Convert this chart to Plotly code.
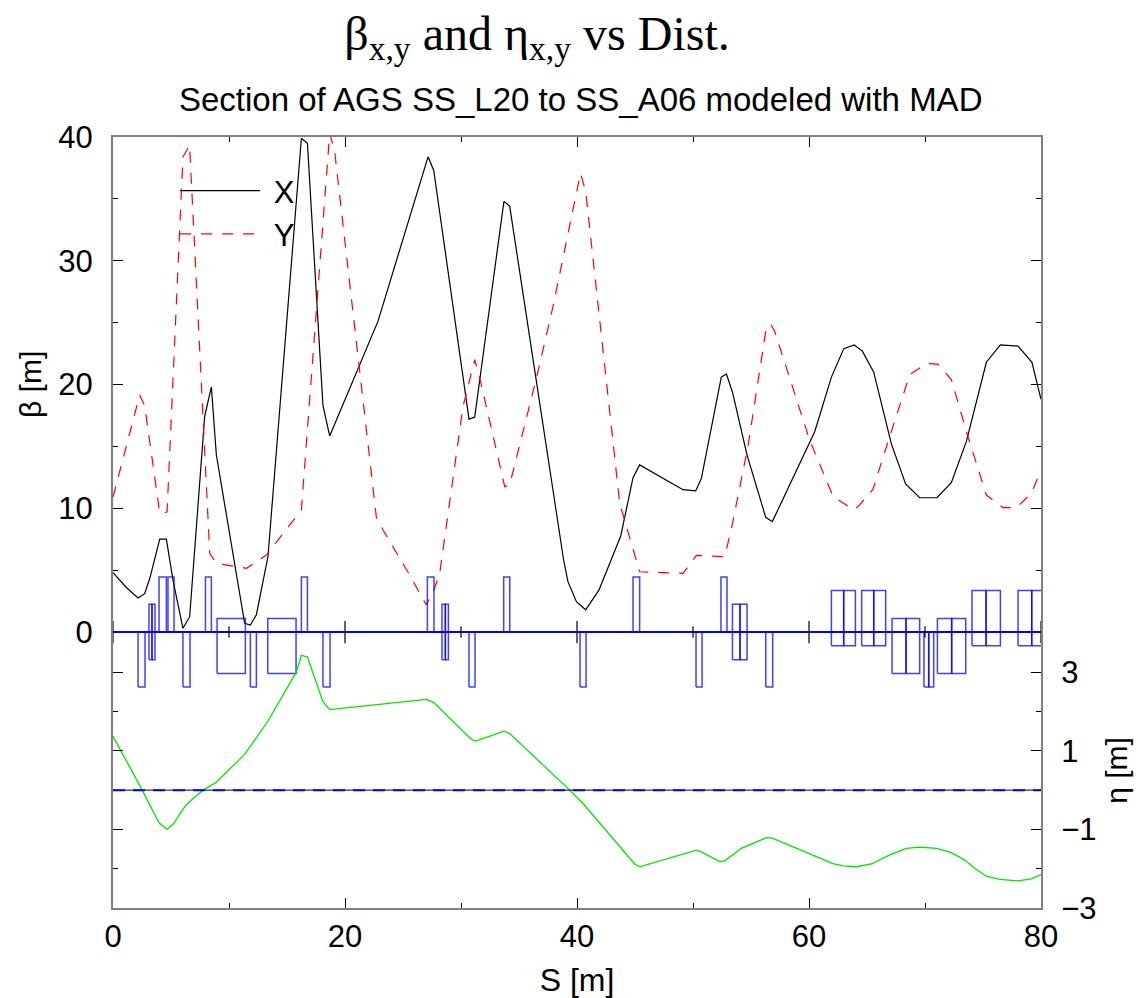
import plotly.graph_objects as go

# ---------------- data ----------------
s_bx = [0, 1.15, 2.16, 2.73, 3.16, 4.03, 4.6, 5.17, 6.03, 6.61, 7.9, 8.48, 8.91, 11.35, 11.84,
        12.36, 13.36, 16.24, 16.76, 18.1, 18.68, 22.84, 27.16, 27.65, 30.69, 31.18, 33.7, 34.2,
        38.85, 39.22, 39.95, 40.75, 41.9, 43.77, 44.83, 45.4, 49.14, 50.23, 50.72, 52.44, 52.88,
        53.4, 54.66, 56.27, 56.84, 60.5, 61.93, 63.0, 63.9, 64.6, 65.58, 67.1, 68.33, 69.54,
        71.03, 72.27, 73.57, 75.29, 76.5, 78.02, 79.22, 80]
beta_x = [4.8, 3.6, 2.75, 3.1, 4.3, 7.5, 7.5, 4.2, 0.3, 1.24, 17.4, 19.8, 14.3, 0.7, 0.57,
          1.4, 6.1, 39.9, 39.5, 18.3, 15.84, 25.1, 38.4, 37.3, 17.2, 17.35, 34.8, 34.4,
          5.8, 4.07, 2.45, 1.8, 3.4, 7.76, 12.47, 13.5, 11.5, 11.4, 12.4, 20.6, 20.85,
          19.4, 14.3, 9.27, 8.92, 16.2, 20.6, 22.9, 23.2, 22.7, 21.0, 15.2, 11.96, 10.85,
          10.85, 12.07, 15.4, 21.8, 23.2, 23.1, 21.8, 18.8]

s_by = [0, 2.3, 2.73, 4.03, 4.66, 6.03, 6.6, 8.34, 8.91, 11.5, 13.2, 16.24, 18.68, 19.1, 22.7,
        23.28, 25.58, 27.0, 27.7, 28.16, 30.17, 31.18, 31.6, 33.77, 34.19, 36.5, 37.93, 40.3,
        40.75, 43.68, 45.4, 49.14, 50.29, 52.73, 53.3, 54.74, 56.27, 56.67, 57.04, 60.06, 62.07,
        63.79, 64.2, 65.5, 66.96, 68.68, 70.12, 71.12, 72.27, 73.57, 75.29, 76.72, 77.88, 79.17, 80]
beta_y = [10.9, 19.15, 18.3, 9.6, 9.7, 38.4, 39.35, 6.36, 5.55, 5.15, 6.2, 9.86, 40.3, 38.9, 9.3,
          8.24, 4.6, 2.2, 3.5, 4.7, 18.2, 22.0, 20.6, 11.74, 11.88, 20.5, 26.3, 37.07,
          35.6, 10.4, 4.87, 4.74, 6.2, 6.08, 8.3, 15.0, 24.3, 24.9, 24.3, 15.5, 10.97,
          9.9, 10.1, 11.5, 15.8, 20.8, 21.7, 21.65, 20.4, 16.2, 11.07, 10.05, 10.05, 11.2, 13.1]

s_eta = [0, 2.45, 3.97, 4.66, 5.23, 6.18, 6.76, 7.76, 8.91, 11.35, 13.36, 15.81, 16.24, 16.76,
         18.1, 18.68, 27.02, 27.65, 30.9, 31.27, 33.7, 34.2, 39.37, 40.52, 44.97, 45.4, 50.29,
         50.72, 52.3, 52.73, 54.17, 56.33, 56.9, 62.07, 62.93, 64.09, 65.38, 66.96, 68.4, 69.54,
         70.98, 72.27, 73.42, 74.28, 75.29, 76.44, 78.02, 79.17, 80]
eta_x = [1.37, 0.04, -0.83, -1.0, -0.85, -0.42, -0.25, 0.0, 0.2, 0.91, 1.76, 3.01, 3.43, 3.39,
         2.25, 2.05, 2.31, 2.23, 1.29, 1.25, 1.5, 1.44, 0.0, -0.34, -1.88, -1.95, -1.53,
         -1.57, -1.82, -1.8, -1.48, -1.21, -1.23, -1.87, -1.93, -1.95, -1.88, -1.65, -1.48, -1.45,
         -1.48, -1.59, -1.78, -1.99, -2.19, -2.27, -2.31, -2.26, -2.15]

# lattice elements: start, end, type
elem_s0 = [2.16, 3.10, 3.36, 3.97, 4.74, 6.03, 7.97, 8.97, 11.84, 13.34, 16.24, 18.10,
           27.10, 28.36, 28.65, 30.69, 33.68, 40.26, 44.83, 50.26, 52.41, 53.40, 54.05, 56.27,
           61.93, 62.99, 64.54, 65.58, 67.16, 68.36, 69.91, 70.32, 71.07, 72.30, 74.05, 75.26,
           78.02, 79.20]
elem_s1 = [2.76, 3.36, 3.62, 4.60, 5.26, 6.64, 8.48, 11.41, 12.36, 15.78, 16.76, 18.71,
           27.67, 28.65, 28.91, 31.21, 34.20, 40.78, 45.40, 50.78, 52.93, 54.05, 54.66, 56.87,
           62.99, 64.00, 65.58, 66.61, 68.36, 69.54, 70.32, 70.75, 72.30, 73.51, 75.26, 76.50,
           79.20, 80.40]
elem_type = ["QD", "SX", "SX", "QF", "QF", "QD", "QF", "BD", "QD", "BD", "QF", "QD",
             "QF", "SX", "SX", "QD", "QF", "QD", "QF", "QD", "QF", "SX", "SX", "QD",
             "BU", "BU", "BU", "BU", "BD", "BD", "QD", "QD", "BD", "BD", "BU", "BU",
             "BU", "BU"]
elem_extent = {"QF": (0, 4.45), "QD": (-4.45, 0), "SX": (-2.25, 2.25),
               "BU": (-1.1, 3.35), "BD": (-3.35, 1.1)}

s_major = [0, 20, 40, 60, 80]
s_minor = [10, 30, 50, 70]
beta_major = [0, 10, 20, 30, 40]
beta_minor = [5, 15, 25, 35]
eta_major = [-3, -1, 1, 3]
eta_labels = ["\u22123", "\u22121", "1", "3"]
eta_minor = [-2, 0, 2]

# ---------------- figure ----------------
FONT = "Liberation Sans"
fig = go.Figure()

fig.add_trace(go.Scatter(x=s_bx, y=beta_x, mode="lines", name="\u00a0X",
                         line=dict(color="black", width=1.2)))
fig.add_trace(go.Scatter(x=s_by, y=beta_y, mode="lines", name="\u00a0Y",
                         line=dict(color="red", width=1.2, dash="11px,10px")))

bx, by = [], []
for a, b, t in zip(elem_s0, elem_s1, elem_type):
    lo, hi = elem_extent[t]
    bx += [a, a, b, b, a, None]
    by += [lo, hi, hi, lo, lo, None]
fig.add_trace(go.Scatter(x=bx, y=by, mode="lines", showlegend=False, hoverinfo="skip",
                         line=dict(color="rgba(0,0,255,0.75)", width=1.5)))

fig.add_trace(go.Scatter(x=s_eta, y=eta_x, mode="lines", showlegend=False, yaxis="y2",
                         line=dict(color="#00e600", width=1.3)))

# zero axes
fig.add_shape(type="line", xref="x domain", x0=0, x1=1, yref="y", y0=0, y1=0,
              line=dict(color="black", width=1))
fig.add_shape(type="line", xref="x domain", x0=0, x1=1, yref="y", y0=0, y1=0,
              line=dict(color="blue", width=2))
fig.add_shape(type="line", xref="x domain", x0=0, x1=1, yref="y2", y0=0, y1=0,
              line=dict(color="black", width=1))
fig.add_shape(type="line", xref="x domain", x0=0, x1=1, yref="y2", y0=0, y1=0,
              line=dict(color="blue", width=2, dash="12px,8px"))
for s in s_major:
    fig.add_shape(type="line", xref="x", x0=s, x1=s, yref="y", y0=-0.9, y1=0.9,
                  line=dict(color="black", width=1.2))
for s in s_minor:
    fig.add_shape(type="line", xref="x", x0=s, x1=s, yref="y", y0=-0.47, y1=0.47,
                  line=dict(color="black", width=1.2))

axis_common = dict(showgrid=False, zeroline=False, showline=True, linecolor="#808080",
                   linewidth=2, mirror="ticks", ticks="inside", ticklen=10,
                   tickcolor="black", tickwidth=1.2, automargin=False,
                   tickfont=dict(family=FONT, size=31, color="black"))

fig.update_layout(
    width=1138, height=998,
    margin=dict(l=113, r=97, t=137, b=90),
    paper_bgcolor="white", plot_bgcolor="rgba(0,0,0,0)",
    title=dict(text="β<sub>x,y</sub> and η<sub>x,y</sub> vs Dist.",
               font=dict(family="Liberation Serif", size=48, color="black"),
               x=537 / 1138, xanchor="center", xref="container",
               y=1 - 33 / 998, yanchor="middle", yref="container"),
    xaxis=dict(range=[0, 80], tickvals=s_major,
               minor=dict(tickvals=s_minor, ticklen=5, ticks="inside", tickcolor="black"),
               title=dict(text="S [m]", font=dict(family=FONT, size=32, color="black"),
                          standoff=18),
               **axis_common),
    yaxis=dict(range=[-22.3, 40], tickvals=beta_major,
               minor=dict(tickvals=beta_minor, ticklen=5, ticks="inside", tickcolor="black"),
               ticklabelstandoff=12,
               **axis_common),
    yaxis2=dict(domain=[0, 275 / 771], range=[-3, 4], anchor="x", side="right",
                tickvals=eta_major, ticktext=eta_labels,
                minor=dict(tickvals=eta_minor, ticklen=5, ticks="inside", tickcolor="black"),
                title=dict(text="η [m]", font=dict(family=FONT, size=30, color="black"),
                           standoff=10),
                ticklabelstandoff=12,
                **axis_common),
    legend=dict(x=0.067, y=0.965, xanchor="left", yanchor="top",
                bgcolor="rgba(0,0,0,0)", font=dict(family=FONT, size=31, color="black"),
                itemwidth=80, tracegroupgap=0),
    showlegend=True,
)

# beta axis title, centred on the beta (0..40) part of the left axis
fig.add_annotation(text="β [m]", xref="paper", yref="paper",
                   x=(30 - 113) / 928, y=(908 - 385) / 771, textangle=-90,
                   xanchor="center", yanchor="middle", showarrow=False,
                   font=dict(family=FONT, size=30, color="black"))

fig.add_annotation(text="Section of AGS SS_L20 to SS_A06 modeled with MAD",
                   xref="paper", yref="paper", x=(580 - 113) / 928, y=(908 - 100) / 771,
                   xanchor="center", yanchor="middle", showarrow=False,
                   font=dict(family=FONT, size=33, color="black"))

fig.write_html("out.html")
